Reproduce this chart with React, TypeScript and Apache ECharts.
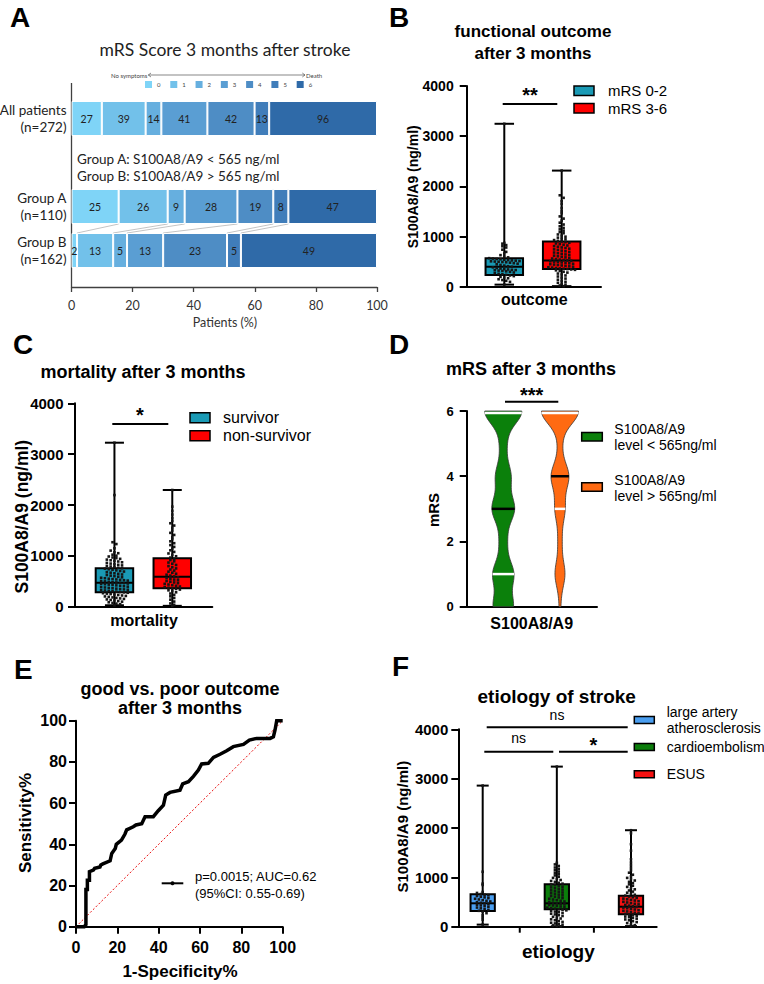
import React, { useEffect, useRef } from "react";
import * as echarts from "echarts";

const ARIAL = "'Liberation Sans', Arial, Helvetica, sans-serif";
const SOFT = "Lato, 'Open Sans', sans-serif";

// ---------- A: mRS score distribution (patient counts per score) ----------
const mrsScores = ["0", "1", "2", "3", "4", "5", "6"];
const allPatientsCounts = [27, 39, 14, 41, 42, 13, 96];
const groupACounts = [25, 26, 9, 28, 19, 8, 47];
const groupBCounts = [2, 13, 5, 13, 23, 5, 49];
const cohortRows = ["Group B\n(n=162)", "Group A\n(n=110)", "", "All patients\n(n=272)"];
const mrsShades = ["#7fd4f7", "#72c1ea", "#66afdf", "#5a9ed3", "#4e8dc5", "#407dba", "#2f6aa8"];

// ---------- B: functional outcome (box = min, Q1, median, Q3, max) ----------
const outcomeGroups = ["mRS 0-2", "mRS 3-6"];
const goodOutcomeBox = [41, 234, 400, 568, 3247];
const poorOutcomeBox = [11, 354, 520, 900, 2314];
const goodOutcomeDots = [3247, 874, 858, 829, 806, 781, 738, 694, 661, 629, 603, 584, 569, 561, 553, 546, 538, 533, 524, 519, 511, 506, 501, 497, 492, 487, 479, 468, 459, 446, 433, 421, 409, 398, 386, 373, 362, 351, 344, 337, 332, 328, 321, 314, 306, 295, 283, 269, 257, 247, 236, 224, 211, 196, 181, 168, 149, 133, 118, 96, 41];
const poorOutcomeDots = [2314, 1822, 1771, 1704, 1648, 1571, 1512, 1463, 1401, 1357, 1318, 1276, 1239, 1204, 1171, 1143, 1117, 1089, 1066, 1041, 1019, 997, 978, 961, 944, 929, 914, 902, 889, 876, 862, 849, 836, 821, 809, 796, 782, 771, 758, 744, 733, 719, 706, 693, 681, 668, 656, 643, 631, 619, 607, 596, 584, 573, 561, 551, 540, 532, 523, 516, 508, 499, 491, 483, 474, 466, 457, 449, 441, 432, 423, 414, 406, 397, 389, 381, 372, 364, 357, 351, 344, 336, 326, 314, 297, 281, 262, 243, 224, 203, 181, 162, 139, 118, 97, 78, 59, 41, 24, 11];

// ---------- C: mortality ----------
const mortalityGroups = ["survivor", "non-survivor"];
const survivorBox = [28, 283, 470, 755, 3225];
const nonSurvivorBox = [17, 362, 590, 952, 2295];
const survivorDots = [3225, 2195, 1268, 1232, 1148, 1103, 1071, 1052, 1023, 1004, 987, 968, 955, 941, 926, 913, 902, 889, 873, 861, 848, 836, 824, 812, 801, 790, 778, 766, 757, 748, 737, 725, 714, 702, 691, 680, 669, 657, 646, 634, 623, 611, 600, 590, 579, 569, 560, 551, 543, 536, 528, 521, 513, 505, 498, 491, 484, 477, 470, 463, 456, 449, 442, 434, 427, 419, 411, 402, 394, 386, 378, 370, 362, 355, 347, 340, 333, 326, 319, 311, 304, 297, 290, 282, 274, 265, 257, 248, 239, 230, 221, 212, 202, 193, 183, 173, 163, 153, 143, 133, 122, 111, 99, 87, 74, 61, 47, 28];
const nonSurvivorDots = [2295, 1968, 1884, 1812, 1745, 1688, 1641, 1596, 1551, 1498, 1452, 1411, 1368, 1327, 1286, 1249, 1211, 1176, 1142, 1109, 1078, 1047, 1019, 992, 966, 941, 917, 893, 868, 845, 821, 798, 776, 753, 731, 710, 689, 668, 648, 629, 611, 594, 578, 563, 548, 533, 519, 505, 491, 477, 463, 449, 436, 423, 410, 397, 384, 372, 360, 349, 337, 322, 304, 283, 259, 233, 204, 172, 138, 101, 64, 38, 17];

// ---------- D: mRS by S100A8/A9 level (violins built from the group counts above) ----------
const levelGroups = ["S100A8/A9\nlevel < 565ng/ml", "S100A8/A9\nlevel > 565ng/ml"];

// ---------- E: ROC curve (1-specificity %, sensitivity %) ----------
const rocFpr = [0, 2, 4, 4.8, 4.8, 5.5, 5.5, 6.5, 6.5, 8.4, 9, 11.6, 12, 13, 16.5, 17.3, 19, 19.5, 22, 23.7, 24.5, 27.7, 29, 31.8, 33.4, 37.4, 39.8, 42.3, 43.4, 45.5, 50.3, 51.6, 54.4, 56.8, 59.2, 60.8, 64, 66.5, 69.7, 72.9, 76.1, 81, 83.9, 87.4, 93.9, 95.5, 96.3, 97.1, 100];
const rocTpr = [0, 0, 0, 1, 18, 18, 22.6, 22.6, 26.7, 27.5, 28.3, 29, 30, 30.5, 32, 35.6, 38, 40, 42, 45, 47, 48.5, 49.4, 50, 53.4, 53.4, 56.3, 59, 63.9, 65.2, 66.3, 69.3, 70.4, 73, 76, 79, 79.3, 82.2, 83.7, 85.4, 87.4, 88.5, 90.6, 91.4, 91.4, 92.2, 95.5, 100, 100];

// ---------- F: etiology ----------
const etiologyGroups = ["large artery\natherosclerosis", "cardioembolism", "ESUS"];
const laaBox = [42, 318, 474, 656, 2859];
const ceBox = [8, 352, 474, 860, 3244];
const esusBox = [12, 251, 405, 629, 1955];
const laaDots = [2859, 1113, 873, 846, 703, 684, 661, 648, 637, 622, 608, 594, 579, 566, 552, 538, 524, 511, 497, 484, 471, 457, 444, 430, 417, 403, 388, 372, 356, 339, 322, 306, 274, 236, 188, 143, 42];
const ceDots = [3244, 1294, 1262, 1231, 1199, 1172, 1143, 1117, 1088, 1063, 1039, 1012, 989, 968, 946, 927, 908, 889, 872, 857, 842, 826, 811, 796, 781, 766, 752, 737, 722, 708, 693, 679, 664, 650, 636, 621, 607, 593, 579, 565, 551, 538, 524, 511, 499, 487, 475, 464, 453, 442, 431, 420, 409, 398, 387, 376, 365, 354, 343, 331, 319, 306, 293, 279, 264, 249, 233, 217, 200, 183, 166, 149, 131, 114, 97, 81, 66, 52, 39, 27, 16, 8];
const esusDots = [1955, 1893, 1672, 1541, 1366, 1302, 1247, 1193, 1141, 1094, 1053, 1018, 989, 962, 936, 909, 884, 858, 831, 806, 781, 757, 734, 711, 689, 668, 648, 629, 612, 597, 583, 569, 556, 543, 530, 517, 504, 491, 478, 465, 452, 439, 426, 413, 400, 387, 374, 361, 348, 335, 322, 309, 296, 283, 270, 257, 244, 231, 218, 205, 192, 178, 163, 147, 130, 112, 93, 73, 52, 31, 12];

const TEAL = "#1a9ab5";
const RED = "#ff0000";

const sum = (a: number[]) => a.reduce((s, v) => s + v, 0);
const toPct = (counts: number[]) => counts.map((c) => (c / sum(counts)) * 100);
const cumulative = (a: number[]) => {
  let s = 0;
  return a.map((v) => (s += v));
};

// beeswarm: values falling in the same row are spread sideways (pixel offsets)
function swarm(x: number, values: number[], rowSize: number, stepPx: number) {
  const rows = new Map<number, number[]>();
  values.forEach((v) => {
    const k = Math.round(v / rowSize);
    if (!rows.has(k)) rows.set(k, []);
    rows.get(k)!.push(v);
  });
  const out: number[][] = [];
  rows.forEach((vs) => vs.forEach((v, i) => out.push([x, v, (i - (vs.length - 1) / 2) * stepPx])));
  return out;
}

function quantileFromCounts(counts: number[], p: number) {
  const rank = p * (sum(counts) + 1);
  let c = 0;
  for (let k = 0; k < counts.length; k++) {
    c += counts[k];
    if (c >= rank) return k;
  }
  return counts.length - 1;
}

const BANDWIDTH = 0.4;
const density = (counts: number[], y: number) =>
  counts.reduce((s, c, k) => s + c * Math.exp(-0.5 * ((y - k) / BANDWIDTH) ** 2), 0);

function boxSeries(axis: number, positions: number[], boxes: number[][], dots: number[][], colors: string[], boxW: number, capW: number) {
  const stroke = { stroke: "#000", lineWidth: 2 };
  return [
    {
      type: "custom",
      xAxisIndex: axis,
      yAxisIndex: axis,
      silent: true,
      z: 2,
      encode: { x: 0, y: [1, 2, 3, 4, 5] },
      data: boxes.map((b, i) => [positions[i], ...b]),
      renderItem: (params: any, api: any) => {
        const x = api.value(0);
        const pMin = api.coord([x, api.value(1)]);
        const pQ1 = api.coord([x, api.value(2)]);
        const pMed = api.coord([x, api.value(3)]);
        const pQ3 = api.coord([x, api.value(4)]);
        const pMax = api.coord([x, api.value(5)]);
        const cx = pMin[0];
        return {
          type: "group",
          children: [
            { type: "line", shape: { x1: cx, y1: pMax[1], x2: cx, y2: pQ3[1] }, style: stroke },
            { type: "line", shape: { x1: cx, y1: pQ1[1], x2: cx, y2: pMin[1] }, style: stroke },
            { type: "line", shape: { x1: cx - capW / 2, y1: pMax[1], x2: cx + capW / 2, y2: pMax[1] }, style: stroke },
            { type: "line", shape: { x1: cx - capW / 2, y1: pMin[1], x2: cx + capW / 2, y2: pMin[1] }, style: stroke },
            {
              type: "rect",
              shape: { x: cx - boxW / 2, y: pQ3[1], width: boxW, height: pQ1[1] - pQ3[1] },
              style: { fill: colors[params.dataIndex], stroke: "#000", lineWidth: 2 },
            },
            { type: "line", shape: { x1: cx - boxW / 2, y1: pMed[1], x2: cx + boxW / 2, y2: pMed[1] }, style: stroke },
          ],
        };
      },
    },
    {
      type: "custom",
      xAxisIndex: axis,
      yAxisIndex: axis,
      silent: true,
      z: 3,
      encode: { x: 0, y: 1 },
      data: dots.flatMap((d, i) => swarm(positions[i], d, 60, 3.8)),
      renderItem: (params: any, api: any) => {
        const p = api.coord([api.value(0), api.value(1)]);
        return {
          type: "rect",
          shape: { x: p[0] + api.value(2) - 1.3, y: p[1] - 1.3, width: 2.6, height: 2.6 },
          style: { fill: "#151515" },
        };
      },
    },
  ];
}

const axisLine = { show: true, onZero: false, lineStyle: { color: "#000", width: 2 } };
const plain = (v: number) => String(v);
const valueY = (idx: number, max: number, interval: number, fontSize: number, margin: number) => ({
  type: "value",
  gridIndex: idx,
  min: 0,
  max,
  interval,
  axisLine,
  axisTick: { show: true, length: 7, lineStyle: { color: "#000", width: 2 } },
  axisLabel: { fontFamily: ARIAL, fontWeight: "bold", fontSize, color: "#000", margin, formatter: plain },
  splitLine: { show: false },
});
const groupX = (idx: number, min: number, max: number) => ({
  type: "value",
  gridIndex: idx,
  min,
  max,
  axisLine,
  axisTick: { show: false },
  axisLabel: { show: false },
  splitLine: { show: false },
});

const txt = (x: number, y: number, t: string, size: number, o: any = {}) => ({
  type: "text",
  x,
  y,
  rotation: o.rotation || 0,
  silent: true,
  style: {
    text: t,
    fontFamily: o.family || ARIAL,
    fontSize: size,
    fontWeight: o.weight || "normal",
    fill: o.color || "#000",
    align: o.align || "center",
    verticalAlign: "middle",
  },
});
const hline = (x1: number, x2: number, y: number, w = 2, color = "#000") => ({
  type: "line",
  silent: true,
  shape: { x1, y1: y, x2, y2: y },
  style: { stroke: color, lineWidth: w },
});
const swatch = (x: number, y: number, w: number, h: number, color: string) => ({
  type: "rect",
  silent: true,
  shape: { x, y, width: w, height: h },
  style: { fill: color, stroke: "#000", lineWidth: 1.5 },
});

function buildOption(): any {
  const rowCounts = [groupBCounts, groupACounts, null, allPatientsCounts];
  const barSeries = mrsScores.map((score, i) => ({
    type: "bar",
    name: score,
    stack: "mrs",
    xAxisIndex: 0,
    yAxisIndex: 0,
    barWidth: 35,
    itemStyle: { color: mrsShades[i], borderColor: "#fff", borderWidth: 1 },
    label: {
      show: true,
      position: "inside",
      formatter: (p: any) => String(p.data.count),
      fontFamily: SOFT,
      fontSize: 10.5,
      color: "#222",
    },
    data: rowCounts.map((r) => (r ? { value: toPct(r)[i], count: r[i] } : "-")),
  }));

  const cumA = cumulative(toPct(groupACounts));
  const cumB = cumulative(toPct(groupBCounts));
  const connectors = {
    type: "custom",
    xAxisIndex: 0,
    yAxisIndex: 0,
    silent: true,
    z: 1,
    encode: { x: 0, y: 1 },
    data: cumA.slice(0, mrsScores.length - 1).map((a, i) => [a, 1, cumB[i]]),
    renderItem: (params: any, api: any) => {
      const half = 17.5;
      const a = api.coord([api.value(0), 1]);
      const b = api.coord([api.value(2), 0]);
      return {
        type: "line",
        shape: { x1: a[0], y1: a[1] + half, x2: b[0], y2: b[1] - half },
        style: { stroke: "#b5b5b5", lineWidth: 0.8 },
      };
    },
  };

  const violinCounts = [groupACounts, groupBCounts];
  const violinColors = ["#0b800b", "#ff6a12"];
  const violins = {
    type: "custom",
    xAxisIndex: 3,
    yAxisIndex: 3,
    silent: true,
    encode: { x: 0, y: 1 },
    data: [
      [1, 0],
      [2, 1],
    ],
    renderItem: (params: any, api: any) => {
      const x = api.value(0);
      const g = params.dataIndex;
      const counts = violinCounts[g];
      const top = counts.length - 1;
      const halfMax = 18.5;
      const ys: number[] = [];
      for (let i = 0; i <= 120; i++) ys.push((i * top) / 120);
      const d = ys.map((y) => density(counts, y));
      const dmax = Math.max(...d);
      const right = ys.map((y, i) => {
        const p = api.coord([x, y]);
        return [p[0] + (d[i] / dmax) * halfMax, p[1]];
      });
      const left = ys
        .map((y, i) => {
          const p = api.coord([x, y]);
          return [p[0] - (d[i] / dmax) * halfMax, p[1]];
        })
        .reverse();
      const children: any[] = [
        { type: "polygon", shape: { points: right.concat(left) }, style: { fill: violinColors[g], stroke: "#333", lineWidth: 0.8 } },
      ];
      const yTop = api.coord([x, top])[1];
      const yBottom = api.coord([x, 0])[1];
      ([
        [0.25, "#fff"],
        [0.75, "#fff"],
        [0.5, "#000"],
      ] as [number, string][]).forEach(([p, col]) => {
        const q = quantileFromCounts(counts, p);
        const c = api.coord([x, q]);
        const yPix = Math.min(Math.max(c[1], yTop + 2), yBottom - 2);
        const hw = (density(counts, q) / dmax) * halfMax;
        children.push({ type: "line", shape: { x1: c[0] - hw, y1: yPix, x2: c[0] + hw, y2: yPix }, style: { stroke: col, lineWidth: 2.5 } });
      });
      return { type: "group", children };
    },
  };

  const etiologyPositions = [1, 2, 3];
  const etiologyTicks = {
    type: "custom",
    xAxisIndex: 5,
    yAxisIndex: 5,
    silent: true,
    encode: { x: 0, y: 1 },
    data: etiologyPositions.slice(1).map((p, i) => [(p + etiologyPositions[i]) / 2, 0]),
    renderItem: (params: any, api: any) => {
      const p = api.coord([api.value(0), 0]);
      return { type: "line", shape: { x1: p[0], y1: p[1], x2: p[0], y2: p[1] + 6 }, style: { stroke: "#000", lineWidth: 2 } };
    },
  };

  const graphic: any[] = [
    // panel letters
    txt(10, 17, "A", 28, { weight: "bold", align: "left" }),
    txt(389, 17, "B", 28, { weight: "bold", align: "left" }),
    txt(13, 344, "C", 28, { weight: "bold", align: "left" }),
    txt(389, 344, "D", 28, { weight: "bold", align: "left" }),
    txt(14, 669, "E", 28, { weight: "bold", align: "left" }),
    txt(392, 666, "F", 28, { weight: "bold", align: "left" }),

    // A
    txt(225, 49, "mRS Score 3 months after stroke", 17.5, { family: SOFT, color: "#222" }),
    txt(111, 75, "No symptoms", 6, { family: SOFT, color: "#444", align: "left" }),
    txt(306, 75, "Death", 6, { family: SOFT, color: "#444", align: "left" }),
    hline(148.3, 305, 75, 0.7, "#555"),
    { type: "polyline", silent: true, shape: { points: [[151, 73], [148.3, 75], [151, 77]] }, style: { stroke: "#555", lineWidth: 0.7, fill: null } },
    { type: "polyline", silent: true, shape: { points: [[302.3, 73], [305, 75], [302.3, 77]] }, style: { stroke: "#555", lineWidth: 0.7, fill: null } },
    { type: "line", silent: true, shape: { x1: 71.5, y1: 83, x2: 71.5, y2: 287 }, style: { stroke: "#404040", lineWidth: 1.3 } },
    txt(77, 159.3, "Group A: S100A8/A9 < 565 ng/ml", 13.5, { family: SOFT, color: "#222", align: "left" }),
    txt(77, 176, "Group B: S100A8/A9 > 565 ng/ml", 13.5, { family: SOFT, color: "#222", align: "left" }),
    txt(225, 322.5, "Patients (%)", 12.5, { family: SOFT, color: "#333" }),

    // B
    txt(533, 31, "functional outcome", 17, { weight: "bold" }),
    txt(533, 53, "after 3 months", 17, { weight: "bold" }),
    txt(530, 95, "**", 20, { weight: "bold" }),
    hline(502.7, 557.3, 104),
    swatch(574, 86, 20, 9.5, TEAL),
    swatch(574, 103.5, 20, 9.5, RED),
    txt(608, 90.8, outcomeGroups[0], 15, { align: "left" }),
    txt(608, 108.3, outcomeGroups[1], 15, { align: "left" }),
    txt(413.3, 186.7, "S100A8/A9 (ng/ml)", 14, { weight: "bold", rotation: Math.PI / 2 }),
    txt(534.3, 299.5, "outcome", 16, { weight: "bold" }),

    // C
    txt(143, 371.7, "mortality after 3 months", 18, { weight: "bold" }),
    txt(140, 415, "*", 20, { weight: "bold" }),
    hline(112.3, 168.3, 424),
    swatch(190, 412.7, 20, 10, TEAL),
    swatch(190, 430.7, 20, 10, RED),
    txt(223, 417.7, mortalityGroups[0], 16, { align: "left" }),
    txt(223, 435.7, mortalityGroups[1], 16, { align: "left" }),
    txt(21.7, 516.7, "S100A8/A9 (ng/ml)", 17.5, { weight: "bold", rotation: Math.PI / 2 }),
    txt(144, 620, "mortality", 16, { weight: "bold" }),

    // D
    txt(531, 369, "mRS after 3 months", 18, { weight: "bold" }),
    txt(531.7, 394.5, "***", 20, { weight: "bold" }),
    hline(505, 558.3, 401.7),
    swatch(581.7, 432.5, 20.6, 8.5, violinColors[0]),
    swatch(581.7, 482.7, 20.6, 8.5, violinColors[1]),
    txt(614.3, 429, levelGroups[0].split("\n")[0], 14, { align: "left" }),
    txt(614.3, 445, levelGroups[0].split("\n")[1], 14, { align: "left" }),
    txt(614.3, 480, levelGroups[1].split("\n")[0], 14, { align: "left" }),
    txt(614.3, 495.5, levelGroups[1].split("\n")[1], 14, { align: "left" }),
    txt(433, 510, "mRS", 15, { weight: "bold", rotation: Math.PI / 2 }),
    txt(531.7, 623, "S100A8/A9", 16, { weight: "bold" }),

    // E
    txt(180, 689, "good vs. poor outcome", 18, { weight: "bold" }),
    txt(180, 708.3, "after 3 months", 18, { weight: "bold" }),
    hline(161.7, 183.3, 883.3, 2),
    { type: "circle", silent: true, shape: { cx: 172.5, cy: 883.3, r: 2 }, style: { fill: "#000" } },
    txt(195, 876, "p=0.0015; AUC=0.62", 13, { align: "left" }),
    txt(195, 893.3, "(95%CI: 0.55-0.69)", 13, { align: "left" }),
    txt(25, 823, "Sensitivity%", 17, { weight: "bold", rotation: Math.PI / 2 }),
    txt(180, 971, "1-Specificity%", 17, { weight: "bold" }),

    // F
    txt(556.7, 696.5, "etiology of stroke", 19, { weight: "bold" }),
    txt(557, 714.5, "ns", 14),
    hline(486.7, 627.7, 727.3),
    txt(518.7, 738.3, "ns", 14),
    hline(484.3, 553.3, 751.7),
    txt(593.3, 744.5, "*", 20, { weight: "bold" }),
    hline(559, 627.7, 751.7),
    swatch(634.3, 716.5, 20, 7, "#4a9ef0"),
    swatch(634.3, 743.5, 20, 7, "#0b7d0b"),
    swatch(634.3, 770.7, 20, 7, "#f51212"),
    txt(666.7, 711.7, etiologyGroups[0].split("\n")[0], 14, { align: "left" }),
    txt(666.7, 727.7, etiologyGroups[0].split("\n")[1], 14, { align: "left" }),
    txt(666.7, 747.3, etiologyGroups[1], 14, { align: "left" }),
    txt(666.7, 774, etiologyGroups[2], 14, { align: "left" }),
    txt(402.7, 826.7, "S100A8/A9 (ng/ml)", 15, { weight: "bold", rotation: Math.PI / 2 }),
    txt(558.3, 951, "etiology", 19, { weight: "bold" }),
  ];

  return {
    animation: false,
    backgroundColor: "#fff",
    textStyle: { fontFamily: ARIAL },
    legend: {
      data: mrsScores,
      left: 145,
      top: 81,
      padding: 0,
      itemWidth: 7,
      itemHeight: 7,
      itemGap: 9.8,
      icon: "rect",
      selectedMode: false,
      itemStyle: { borderWidth: 0 },
      textStyle: { fontSize: 6, fontFamily: SOFT, color: "#444", padding: 0 },
    },
    grid: [
      { left: 71.5, top: 96.5, width: 305.5, height: 176, outerBoundsMode: "none" },
      { left: 466.7, top: 86, width: 134.3, height: 200.7, outerBoundsMode: "none" },
      { left: 75, top: 403.3, width: 137.3, height: 203.4, outerBoundsMode: "none" },
      { left: 466.7, top: 411, width: 130.3, height: 195.7, outerBoundsMode: "none" },
      { left: 76, top: 720.7, width: 206.7, height: 206, outerBoundsMode: "none" },
      { left: 458.3, top: 729.3, width: 198.4, height: 197.4, outerBoundsMode: "none" },
    ],
    xAxis: [
      {
        type: "value",
        gridIndex: 0,
        min: 0,
        max: 100,
        interval: 20,
        offset: 14.5,
        axisLine: { show: true, lineStyle: { color: "#404040", width: 1.3 } },
        axisTick: { show: true, length: 5, lineStyle: { color: "#404040", width: 1.3 } },
        axisLabel: { fontFamily: SOFT, fontSize: 12.5, color: "#333", margin: 12 },
        splitLine: { show: false },
      },
      groupX(1, 0.345, 2.685),
      groupX(2, 0.318, 2.692),
      groupX(3, 0.355, 2.653),
      {
        type: "value",
        gridIndex: 4,
        min: 0,
        max: 100,
        interval: 20,
        axisLine,
        axisTick: { show: true, length: 7, lineStyle: { color: "#000", width: 2 } },
        axisLabel: { fontFamily: ARIAL, fontWeight: "bold", fontSize: 16, color: "#000", margin: 13 },
        splitLine: { show: false },
      },
      groupX(5, 0.671, 3.347),
    ],
    yAxis: [
      {
        type: "category",
        gridIndex: 0,
        data: cohortRows,
        axisLine: { show: false },
        axisTick: { show: false },
        axisLabel: { fontFamily: SOFT, fontSize: 13.5, lineHeight: 17, color: "#222", align: "right", margin: 5 },
      },
      valueY(1, 4000, 1000, 14, 13),
      valueY(2, 4000, 1000, 15, 11.5),
      valueY(3, 6, 2, 13, 13),
      valueY(4, 100, 20, 16, 9),
      valueY(5, 4000, 1000, 15, 10),
    ],
    series: [
      ...barSeries,
      connectors,
      ...boxSeries(1, [1, 2], [goodOutcomeBox, poorOutcomeBox], [goodOutcomeDots, poorOutcomeDots], [TEAL, RED], 37.5, 19.5),
      ...boxSeries(2, [1, 2], [survivorBox, nonSurvivorBox], [survivorDots, nonSurvivorDots], [TEAL, RED], 37.5, 19),
      violins,
      {
        type: "line",
        xAxisIndex: 4,
        yAxisIndex: 4,
        silent: true,
        symbol: "none",
        data: [
          [0, 0],
          [100, 100],
        ],
        lineStyle: { color: "#e81010", width: 1, type: [2, 2] },
      },
      {
        type: "line",
        xAxisIndex: 4,
        yAxisIndex: 4,
        silent: true,
        symbol: "none",
        clip: false,
        data: rocFpr.map((f, i) => [f, rocTpr[i]]),
        lineStyle: { color: "#000", width: 3.5, join: "miter" },
      },
      ...boxSeries(5, etiologyPositions, [laaBox, ceBox, esusBox], [laaDots, ceDots, esusDots], ["#4a9ef0", "#0b7d0b", "#f51212"], 24.3, 12),
      etiologyTicks,
    ],
    graphic,
  };
}

export default function App() {
  const ref = useRef<HTMLDivElement>(null);
  useEffect(() => {
    const chart = echarts.init(ref.current!, undefined, { renderer: "svg", width: 764, height: 984 });
    chart.setOption(buildOption());
    return () => chart.dispose();
  }, []);
  return (
    <div
      ref={ref}
      style={{ position: "fixed", left: 0, top: 0, width: 764, height: 984, background: "#fff" }}
    />
  );
}
